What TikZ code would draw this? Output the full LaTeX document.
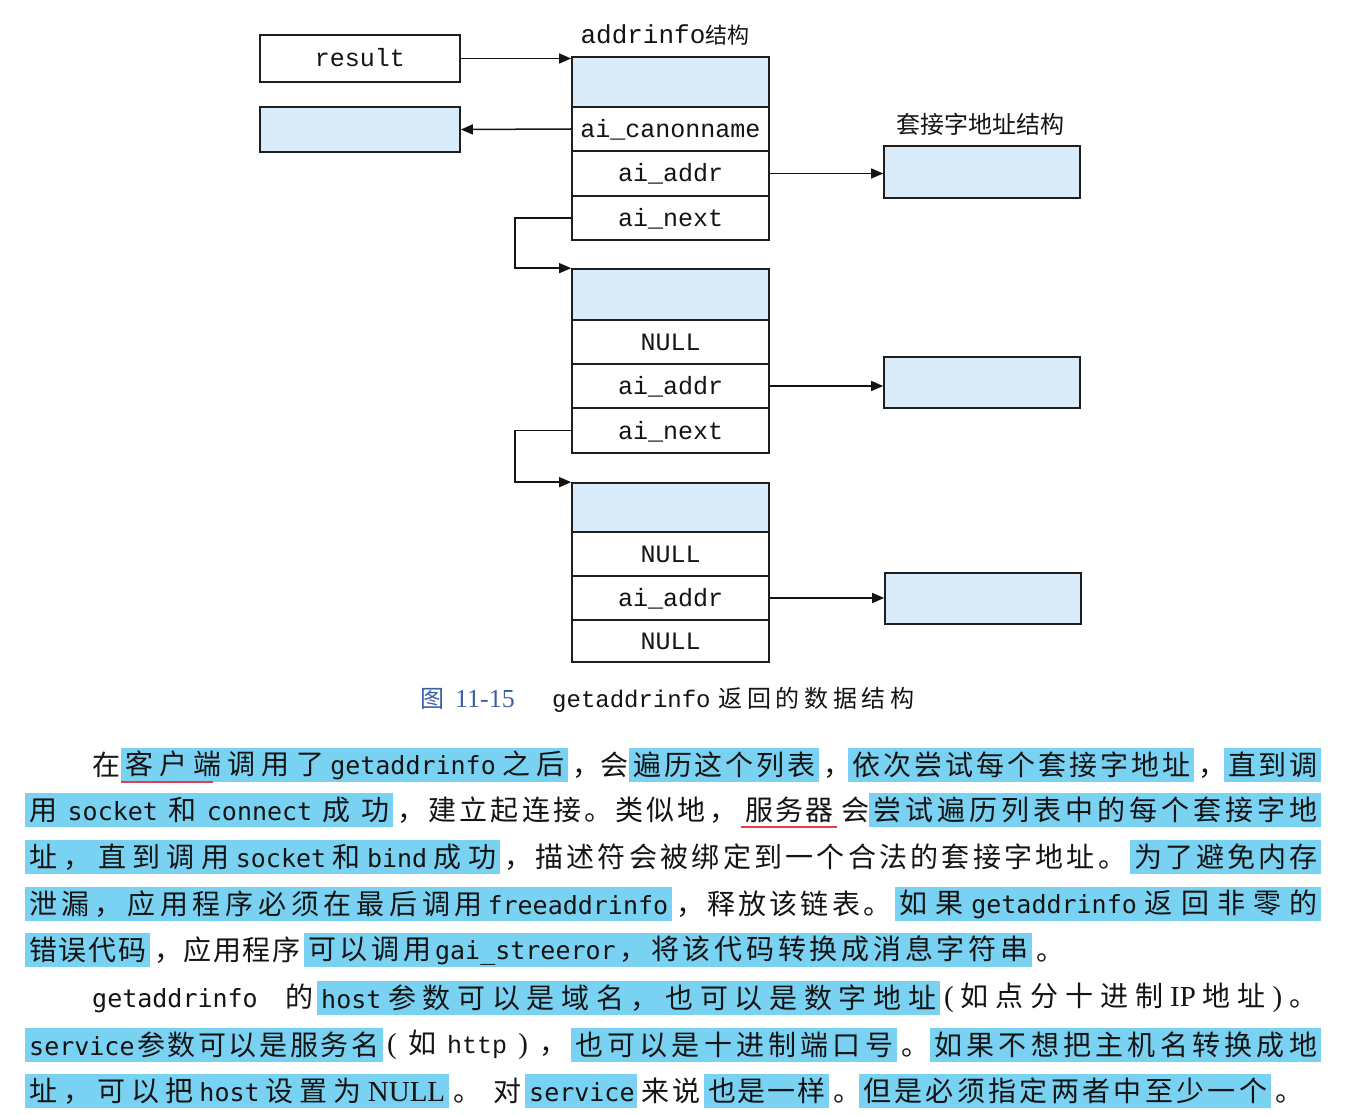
\documentclass[tikz,border=0pt]{standalone}
\usepackage{fontspec}
\setmainfont{Liberation Serif}
\newfontfamily\cjkfam{Noto Sans CJK SC}
\newfontfamily\codefam{DejaVu Sans Mono}
\newfontfamily\monofam{Liberation Mono}
\usetikzlibrary{arrows.meta}

\definecolor{ink}{RGB}{20,20,20}
\definecolor{boxline}{RGB}{30,30,30}
\definecolor{hlblue}{RGB}{122,210,242}
\definecolor{boxblue}{RGB}{218,236,249}
\definecolor{capblue}{RGB}{60,95,165}
\definecolor{redline}{RGB}{232,60,75}

% body text fonts
\newcommand\bodyfont{\cjkfam\fontsize{28pt}{32pt}\selectfont}
\newcommand\cw[1]{{\codefam\fontsize{25pt}{30pt}\selectfont #1}}
\newcommand\rmw[1]{{\rmfamily\fontsize{29pt}{30pt}\selectfont #1}}
\newcommand\ttw[1]{{\monofam\fontsize{25pt}{30pt}\selectfont #1}}

% spread a list of items evenly over the enclosing box
\makeatletter
\newcommand\spreadlist[1]{\@tfor\sp@item:=#1\do{\sp@item\hfil}\unskip}
\makeatother

% one run of a text line: name, left x, right x, centre y, style, items
\newcommand\seg[6]{\node[segbox,#5] (#1) at (#2,#4) {\hbox to \dimexpr#3pt-#2pt-8pt\relax{\vrule height 24pt depth 4pt width 0pt\spreadlist{#6}}};}

\begin{document}
\begin{tikzpicture}[x=1pt,y=-1pt,
  segbox/.style={anchor=west, inner xsep=4pt, inner ysep=0pt, minimum height=34pt, font=\bodyfont, text=ink},
  hl/.style={fill=hlblue},
  plain/.style={},
  uline/.style={draw=redline, line width=2pt},
  cell/.style={draw=boxline, line width=1.7pt, inner sep=0pt, minimum width=197pt,
    font=\monofam\fontsize{25pt}{30pt}\selectfont, text=ink, text height=19pt, text depth=2pt},
  tint/.style={fill=boxblue},
  ptr/.style={draw=ink, line width=1.5pt, -{Triangle[length=12pt,width=10pt]}},
]
\fill[white] (0,0) rectangle (1356,1115);
\useasboundingbox (0,0) rectangle (1356,1115);

% ---------- first addrinfo record ----------
\node[cell, tint, minimum height=50pt] (s1top) at (670.5,82) {};
\node[cell, minimum height=44pt] (s1canon) at (670.5,129) {ai\_canonname};
\node[cell, minimum height=45pt] (s1addr) at (670.5,173.5) {ai\_addr};
\node[cell, minimum height=44pt] (s1next) at (670.5,218) {ai\_next};

% ---------- second record ----------
\node[cell, tint, minimum height=51pt] (s2top) at (670.5,294.5) {};
\node[cell, minimum height=44pt] (s2canon) at (670.5,342) {NULL};
\node[cell, minimum height=44pt] (s2addr) at (670.5,386) {ai\_addr};
\node[cell, minimum height=45pt] (s2next) at (670.5,430.5) {ai\_next};

% ---------- third record ----------
\node[cell, tint, minimum height=49pt] (s3top) at (670.5,507.5) {};
\node[cell, minimum height=44pt] (s3canon) at (670.5,554) {NULL};
\node[cell, minimum height=44pt] (s3addr) at (670.5,598) {ai\_addr};
\node[cell, minimum height=42pt] (s3next) at (670.5,641) {NULL};

% ---------- pointer and name boxes ----------
\node[cell, minimum width=200pt, minimum height=47pt] (result) at (360,58.5) {result};
\node[cell, tint, minimum width=200pt, minimum height=45pt] (canonval) at (360,129.5) {};

% ---------- socket address structures ----------
\node[cell, tint, minimum width=196pt, minimum height=52pt] (sock1) at (982,172) {};
\node[cell, tint, minimum width=196pt, minimum height=51pt] (sock2) at (982,382.5) {};
\node[cell, tint, minimum width=196pt, minimum height=51pt] (sock3) at (983,598.5) {};

% ---------- headings ----------
\node[inner sep=0pt, text=ink] (lblinfo) at (665,35)
  {{\monofam\fontsize{26pt}{30pt}\selectfont addrinfo}{\cjkfam\fontsize{22pt}{30pt}\selectfont 结构}};
\node[inner sep=0pt, text=ink, font=\cjkfam\fontsize{24pt}{30pt}\selectfont] (lblsock) at (980,124) {套接字地址结构};

% ---------- pointers ----------
\draw[ptr] (result.east) -- (result.east -| s1top.west);
\draw[ptr] (s1canon.west) -- (canonval.east);
\draw[ptr] (s1addr.east) -- (s1addr.east -| sock1.west);
\draw[ptr] (s1next.west) -- ++(-56,0) |- (s2top.north west);
\draw[ptr] (s2addr.east) -- (s2addr.east -| sock2.west);
\draw[ptr] (s2next.west) -- ++(-56,0) |- (s3top.north west);
\draw[ptr] (s3addr.east) -- (s3addr.east -| sock3.west);

% ---------- caption ----------
\node[anchor=base west, inner sep=0pt, text=capblue] (capnum) at (420,707)
  {{\cjkfam\fontsize{24pt}{28pt}\selectfont 图}\hspace{11pt}{\rmfamily\fontsize{26pt}{28pt}\selectfont 11-15}};
\node[anchor=base west, inner sep=0pt, text=ink] (captext) at (552,707)
  {{\monofam\fontsize{24pt}{28pt}\selectfont getaddrinfo}\hspace{8pt}\hbox to 196pt{\cjkfam\fontsize{24pt}{28pt}\selectfont\spreadlist{返回的数据结构}}};

% ---------- body text ----------
\seg{p1a}{88}{121}{765}{plain}{在}
\seg{p1b}{121}{568}{765}{hl}{客户端调用了{\cw{getaddrinfo}}之后}
\seg{p1c}{568}{629}{765}{plain}{，会}
\seg{p1d}{629}{819}{765}{hl}{遍历这个列表}
\seg{p1e}{819}{848}{765}{plain}{，}
\seg{p1f}{848}{1194}{765}{hl}{依次尝试每个套接字地址}
\seg{p1g}{1194}{1224}{765}{plain}{，}
\seg{p1h}{1224}{1321}{765}{hl}{直到调}

\seg{p2a}{25}{393}{810}{hl}{用{\cw{socket}}和{\cw{connect}}成功}
\seg{p2b}{393}{741}{810}{plain}{，建立起连接。类似地，}
\seg{p2c}{741}{837}{810}{plain}{服务器}
\seg{p2d}{837}{869}{810}{plain}{会}
\seg{p2e}{869}{1321}{810}{hl}{尝试遍历列表中的每个套接字地}

\seg{p3a}{25}{500}{857}{hl}{址，直到调用{\cw{socket}}和{\cw{bind}}成功}
\seg{p3b}{500}{1130}{857}{plain}{，描述符会被绑定到一个合法的套接字地址。}
\seg{p3c}{1130}{1321}{857}{hl}{为了避免内存}

\seg{p4a}{25}{672}{904}{hl}{泄漏，应用程序必须在最后调用{\cw{freeaddrinfo}}}
\seg{p4b}{672}{895}{904}{plain}{，释放该链表。}
\seg{p4c}{895}{1321}{904}{hl}{如果{\cw{getaddrinfo}}返回非零的}

\seg{p5a}{25}{150}{950}{hl}{错误代码}
\seg{p5b}{150}{304}{950}{plain}{，应用程序}
\seg{p5c}{304}{1032}{950}{hl}{可以调用{\cw{gai\_streeror}}，将该代码转换成消息字符串}
\seg{p5d}{1032}{1064}{950}{plain}{。}

\seg{p6a}{88}{317}{998}{plain}{{\cw{getaddrinfo}}的}
\seg{p6b}{317}{940}{998}{hl}{{\cw{host}}参数可以是域名，也可以是数字地址}
\seg{p6c}{940}{1321}{998}{plain}{{\rmw{(}}如点分十进制{\rmw{IP}}地址{\rmw{)}}。}

\seg{p7a}{25}{383}{1045}{hl}{{\cw{service}}参数可以是服务名}
\seg{p7b}{383}{571}{1045}{plain}{{\rmw{(}}如{\ttw{http}}{\rmw{)}}，}
\seg{p7c}{571}{897}{1045}{hl}{也可以是十进制端口号}
\seg{p7d}{897}{930}{1045}{plain}{。}
\seg{p7e}{930}{1321}{1045}{hl}{如果不想把主机名转换成地}

\seg{p8a}{25}{449}{1091}{hl}{址，可以把{\cw{host}}设置为{\rmw{NULL}}}
\seg{p8b}{449}{525}{1091}{plain}{。对}
\seg{p8c}{525}{637}{1091}{hl}{{\cw{service}}}
\seg{p8d}{637}{704}{1091}{plain}{来说}
\seg{p8e}{704}{829}{1091}{hl}{也是一样}
\seg{p8f}{829}{859}{1091}{plain}{。}
\seg{p8g}{859}{1271}{1091}{hl}{但是必须指定两者中至少一个}
\seg{p8h}{1271}{1303}{1091}{plain}{。}

% red underlines
\draw[uline] (121,782) -- (213,782);
\draw[uline] (741,827) -- (837,827);
\end{tikzpicture}
\end{document}
